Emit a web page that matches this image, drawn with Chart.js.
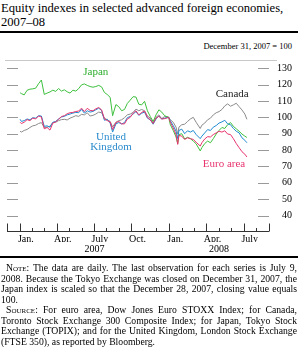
<!DOCTYPE html>
<html><head><meta charset="utf-8">
<script src="https://cdn.jsdelivr.net/npm/chart.js@4/dist/chart.umd.min.js"></script>
<style>
html,body{margin:0;padding:0;background:#fff;}
body{width:298px;height:347px;position:relative;overflow:hidden;font-family:"Liberation Serif","Times New Roman",serif;color:#000;}
#title{position:absolute;left:1px;top:1px;font-size:12.6px;line-height:14px;white-space:nowrap;}
#rule1{position:absolute;left:0;top:31px;width:298px;height:2px;background:#000;}
#sub{position:absolute;right:6px;top:41px;font-size:8.5px;line-height:11px;white-space:nowrap;}
#thin{position:absolute;left:5px;top:60px;width:272px;height:1px;background:#c8c8c8;}
#wrap{position:absolute;left:0;top:0;width:298px;height:258px;}
#rule2{position:absolute;left:0;top:256px;width:298px;height:2px;background:#000;}
#notes{position:absolute;left:1px;top:263px;width:296px;font-size:9.7px;line-height:10.5px;}
#notes .j{text-align:justify;text-align-last:justify;}
#notes .i{text-indent:5px;}
.sc{font-variant:small-caps;}
</style>
</head><body>
<div id="title">Equity indexes in selected advanced foreign economies,<br>2007–08</div>
<div id="rule1"></div>
<div id="sub">December 31, 2007 = 100</div>
<div id="thin"></div>
<div id="wrap"><canvas id="c" width="298" height="258"></canvas></div>
<div id="rule2"></div>
<div id="notes">
<div class="j i"><span class="sc">Note</span>: The data are daily. The last observation for each series is July 9,</div>
<div class="j">2008. Because the Tokyo Exchange was closed on December 31, 2007, the</div>
<div class="j">Japan index is scaled so that the December 28, 2007, closing value equals</div>
<div>100.</div>
<div class="j i"><span class="sc">Source</span>: For euro area, Dow Jones Euro STOXX Index; for Canada,</div>
<div class="j">Toronto Stock Exchange 300 Composite Index; for Japan, Tokyo Stock</div>
<div class="j">Exchange (TOPIX); and for the United Kingdom, London Stock Exchange</div>
<div>(FTSE 350), as reported by Bloomberg.</div>
</div>
<script>
const dates = [
'2007-01-02','2007-01-05','2007-01-12','2007-01-19','2007-01-26',
'2007-02-02','2007-02-09','2007-02-16','2007-02-23',
'2007-03-02','2007-03-09','2007-03-16','2007-03-23','2007-03-30',
'2007-04-06','2007-04-13','2007-04-20','2007-04-27',
'2007-05-04','2007-05-11','2007-05-18','2007-05-25',
'2007-06-01','2007-06-08','2007-06-15','2007-06-22','2007-06-29',
'2007-07-06','2007-07-13','2007-07-20','2007-07-27',
'2007-08-03','2007-08-10','2007-08-16','2007-08-24','2007-08-31',
'2007-09-07','2007-09-14','2007-09-21','2007-09-28',
'2007-10-05','2007-10-12','2007-10-19','2007-10-26',
'2007-11-02','2007-11-09','2007-11-16','2007-11-23','2007-11-30',
'2007-12-07','2007-12-14','2007-12-21','2007-12-31',
'2008-01-04','2008-01-11','2008-01-18','2008-01-22','2008-01-25',
'2008-02-01','2008-02-08','2008-02-15','2008-02-22','2008-02-29',
'2008-03-07','2008-03-17','2008-03-21','2008-03-28',
'2008-04-04','2008-04-11','2008-04-18','2008-04-25',
'2008-05-02','2008-05-09','2008-05-16','2008-05-23','2008-05-30',
'2008-06-06','2008-06-13','2008-06-20','2008-06-27',
'2008-07-04','2008-07-09'];

const japan = [
115.0,114.5,113.7,116.5,117.2,
117.4,117.8,120.5,122.8,
114.0,114.8,115.5,116.6,115.8,
117.6,116.0,116.8,115.6,
114.8,116.6,116.0,117.5,
119.8,120.4,119.5,118.8,118.4,
118.8,119.5,118.6,115.2,
113.9,112.2,101.0,107.8,106.5,
104.0,104.8,108.5,110.5,
112.6,112.4,108.0,107.6,
109.8,104.0,100.5,97.4,101.5,
104.6,103.2,101.0,100.0,
95.5,92.0,88.0,84.0,89.5,
90.0,86.8,87.8,87.0,85.5,
83.8,79.5,81.5,84.0,
85.5,84.5,87.0,89.8,
92.0,93.8,93.2,95.5,96.8,
94.5,93.0,91.5,89.8,
88.5,87.7];

const canada = [
91.5,91.0,92.0,92.6,93.8,
94.8,95.2,96.2,96.8,
93.8,94.0,94.6,96.8,97.0,
98.0,98.6,98.8,98.4,
99.5,100.2,101.0,100.6,
101.8,101.5,102.8,100.8,101.2,
102.0,103.2,102.8,99.5,
98.5,97.5,94.2,97.0,98.0,
98.5,99.8,101.5,102.0,
103.0,105.0,104.0,104.8,
104.0,100.8,99.5,96.5,100.0,
101.5,99.2,100.5,100.0,
98.5,97.0,94.0,89.8,94.0,
95.5,95.8,97.5,99.0,100.0,
97.0,93.2,95.2,96.5,
98.5,99.5,101.5,102.8,
103.5,104.8,107.0,108.2,106.8,
107.6,108.6,106.5,104.5,
102.0,98.8];

const unitedKingdom = [
98.8,97.5,98.0,99.0,98.5,
99.8,99.5,101.0,100.8,
94.5,94.8,94.0,97.0,97.5,
99.0,100.2,100.6,101.5,
102.0,102.6,103.0,102.8,
104.8,102.6,104.0,103.2,103.6,
104.6,105.6,104.2,98.2,
98.8,96.5,91.0,96.0,96.8,
96.0,96.8,99.8,100.5,
102.0,103.5,101.2,102.5,
103.2,99.5,98.5,95.8,99.0,
100.8,99.0,99.5,100.0,
97.8,95.0,91.5,87.0,92.0,
92.8,90.0,91.8,91.0,92.0,
89.5,87.0,88.5,90.5,
92.5,92.0,94.0,95.0,
96.5,97.2,98.2,96.0,95.5,
93.2,91.5,90.5,87.5,
86.0,84.5];

const euroArea = [
97.0,96.2,97.0,98.6,98.0,
99.5,99.0,100.8,100.2,
93.0,93.8,92.2,96.5,97.2,
98.8,100.5,101.0,102.2,
102.8,103.0,103.6,103.8,
105.6,103.5,105.5,104.2,104.0,
105.2,106.0,104.6,99.0,
98.0,97.2,92.5,96.8,97.5,
96.0,96.0,99.0,100.0,
102.5,104.0,101.5,103.0,
103.8,100.0,98.5,96.2,99.5,
100.6,99.0,99.2,100.0,
97.0,93.5,89.5,83.5,89.0,
88.5,86.5,87.5,87.0,86.5,
84.8,82.5,84.5,86.8,
88.2,88.0,89.5,90.5,
91.5,91.0,91.8,89.8,89.5,
87.0,84.0,81.5,79.0,
77.5,75.8];

const yTickValues = [40,50,60,70,80,90,100,110,120,130];
const monthLabels = ['Jan.','Apr.','July','Oct.','Jan.','Apr.','July'];
const monthLabelDates = ['2007-01-16','2007-04-16','2007-07-16','2007-10-16','2008-01-16','2008-04-16','2008-07-16'];
const yearLabels = ['2007','2008'];
const axisStart = '2006-12-01', axisEnd = '2008-09-01';

const FONT = '"Liberation Serif","Times New Roman",serif';
function dayOf(s){const p=s.split('-').map(Number);return (Date.UTC(p[0],p[1]-1,p[2])-Date.UTC(2006,11,1))/86400000;}
const xMin = dayOf(axisStart), xMax = dayOf(axisEnd);
const yearCenters = [(dayOf('2007-01-01')+dayOf('2008-01-01'))/2,(dayOf('2008-01-01')+xMax)/2];
const pts = arr => dates.map((d,i)=>({x:dayOf(d),y:arr[i]}));

const seriesLabels = [
  {lines:['Japan'], d:'2007-07-06', v:127.7, color:'#2eae2e'},
  {lines:['United','Kingdom'], d:'2007-08-12', v:84.8, color:'#2a8bcc'},
  {lines:['Canada'], d:'2008-06-03', v:114.3, color:'#222'},
  {lines:['Euro area'], d:'2008-05-14', v:71.6, color:'#e8336e'}
];

const decor = {
  id:'decor',
  afterDatasetsDraw(chart){
    const ctx=chart.ctx, xs=chart.scales.x, ys=chart.scales.y, ca=chart.chartArea;
    ctx.save();
    ctx.lineWidth=1;
    // bottom axis
    const yb=Math.round(ca.bottom)-0.5;
    ctx.strokeStyle='#333';
    ctx.beginPath();ctx.moveTo(ca.left,yb);ctx.lineTo(ca.right,yb);
    // month ticks
    for(let y=2006,m=12;;){
      const s=y+'-'+String(m).padStart(2,'0')+'-01';
      const dv=dayOf(s); if(dv>xMax) break;
      const x=Math.round(xs.getPixelForValue(dv))+0.5;
      const tall=(m%3===1)||dv===xMin||dv===xMax;
      ctx.moveTo(x,yb);ctx.lineTo(x,yb-(tall?8:3.5));
      m++; if(m>12){m=1;y++;}
    }
    ctx.stroke();
    // y ticks inward on both sides
    ctx.strokeStyle='#999';
    ctx.beginPath();
    yTickValues.forEach(v=>{const y=Math.round(ys.getPixelForValue(v))+0.5;
      ctx.moveTo(ca.left,y);ctx.lineTo(ca.left+11,y);
      ctx.moveTo(ca.right-11,y);ctx.lineTo(ca.right,y);});
    ctx.stroke();
    // series labels
    ctx.font='11px '+FONT;ctx.textAlign='center';ctx.textBaseline='middle';
    seriesLabels.forEach(l=>{
      const x=xs.getPixelForValue(dayOf(l.d)), y=ys.getPixelForValue(l.v);
      ctx.fillStyle=l.color;
      const n=l.lines.length;
      l.lines.forEach((t,i)=>ctx.fillText(t,x,y+(i-(n-1)/2)*9.5));
    });
    ctx.restore();
  }
};

new Chart(document.getElementById('c'),{
  type:'line',
  data:{datasets:[
    {label:'Euro area',data:pts(euroArea),borderColor:'#e8336e'},
    {label:'United Kingdom',data:pts(unitedKingdom),borderColor:'#1f8bd0'},
    {label:'Japan',data:pts(japan),borderColor:'#3cbf3c'},
    {label:'Canada',data:pts(canada),borderColor:'#8a8a8a'}
  ]},
  options:{
    responsive:false,animation:false,
    layout:{padding:{left:7,top:60,right:6,bottom:6}},
    plugins:{legend:{display:false},tooltip:{enabled:false}},
    elements:{point:{radius:0},line:{borderWidth:1,tension:0}},
    scales:{
      x:{type:'linear',position:'bottom',min:xMin,max:xMax,
        grid:{display:false,drawTicks:false},border:{display:false},
        afterBuildTicks:s=>{s.ticks=monthLabelDates.map(d=>({value:dayOf(d)}));},
        afterFit:s=>{s.height=10;},
        ticks:{autoSkip:false,maxRotation:0,padding:2,color:'#000',font:{family:FONT,size:10,lineHeight:1},
          callback:(v,i)=>monthLabels[i]}},
      xYear:{type:'linear',position:'bottom',min:xMin,max:xMax,
        grid:{display:false,drawTicks:false},border:{display:false},
        afterBuildTicks:s=>{s.ticks=yearCenters.map(v=>({value:v}));},
        afterFit:s=>{s.height=10;},
        ticks:{autoSkip:false,maxRotation:0,padding:2,color:'#000',font:{family:FONT,size:10,lineHeight:1},
          callback:(v,i)=>yearLabels[i]}},
      y:{type:'linear',position:'right',min:30,max:135,
        grid:{display:false,drawTicks:false},border:{display:false},
        afterBuildTicks:s=>{s.ticks=yTickValues.map(v=>({value:v}));},
        afterFit:s=>{s.width=23;},
        ticks:{padding:8,crossAlign:'far',color:'#000',font:{family:FONT,size:10,lineHeight:1}}}
    }
  },
  plugins:[decor]
});
</script>
</body></html>
